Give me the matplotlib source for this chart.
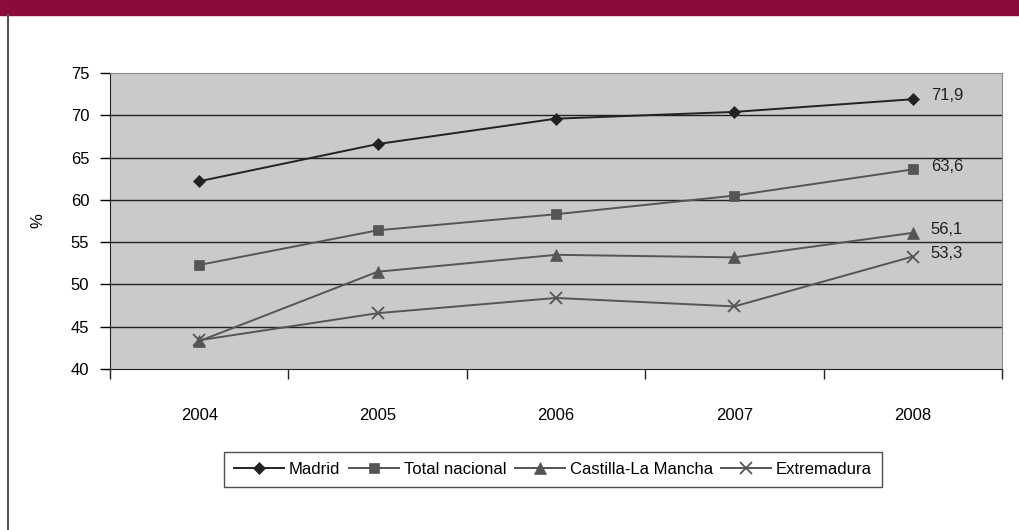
import matplotlib.pyplot as plt
from matplotlib.patches import Rectangle
from matplotlib.lines import Line2D

plt.rcParams['font.family'] = ['Liberation Sans Narrow', 'Liberation Sans', 'DejaVu Sans']

years = ['2004', '2005', '2006', '2007', '2008']
madrid = [62.2, 66.6, 69.6, 70.4, 71.9]
total_nacional = [52.3, 56.4, 58.3, 60.5, 63.6]
castilla = [43.3, 51.5, 53.5, 53.2, 56.1]
extremadura = [43.4, 46.6, 48.4, 47.4, 53.3]

series = [
    ('Madrid', madrid, 'D', '#222222', 6.5),
    ('Total nacional', total_nacional, 's', '#555555', 6.5),
    ('Castilla-La Mancha', castilla, '^', '#555555', 8),
    ('Extremadura', extremadura, 'x', '#555555', 9),
]

fig = plt.figure(figsize=(10.19, 5.30), dpi=100)
# banda superior
fig.patches.append(Rectangle((0, 1 - 15 / 530), 1, 15 / 530, transform=fig.transFigure,
                             color='#8B0C3C', zorder=0))
fig.lines.append(Line2D([8 / 1019, 8 / 1019], [0, 1 - 15 / 530], transform=fig.transFigure,
                        color='#555555', lw=1.5))

ax = fig.add_axes([110 / 1019, 1 - 369 / 530, 892 / 1019, 296 / 530])
ax.set_facecolor('#C9CACC')
x = list(range(len(years)))
for name, vals, mk, col, ms in series:
    ax.plot(x, vals, color=col, lw=1.4, marker=mk, markersize=ms, mew=1.3 if mk == 'x' else 0.5,
            label=name, zorder=3)
    ax.text(x[-1] + 0.1, vals[-1] + 0.4, f'{vals[-1]:.1f}'.replace('.', ','), fontsize=12,
            ha='left', va='center', color='#222222')

ax.set_xlim(-0.5, 4.5)
ax.set_ylim(40, 75)
ax.set_yticks(range(40, 80, 5))
ax.set_xticks(x)
ax.set_xticklabels(years)
ax.set_xticks([i + 0.5 for i in range(-1, 5)], minor=True)
ax.tick_params(axis='x', which='major', length=0, pad=28, labelsize=12)
ax.tick_params(axis='x', which='minor', length=7, width=1, color='#222222')
ax.tick_params(axis='y', length=7, width=1, labelsize=12, pad=8)
for v in range(45, 75, 5):
    ax.axhline(v, color='#222222', lw=1, zorder=1)
ax.spines['top'].set_color('#888888')
ax.spines['right'].set_color('#888888')
ax.spines['left'].set_color('#222222')
ax.spines['bottom'].set_color('#222222')
ax.set_ylabel('%', fontsize=12)
ax.yaxis.set_label_coords(-65 / 892, 0.5)

leg = ax.legend(loc='center', bbox_to_anchor=(553 / 1019, 1 - 469 / 530), bbox_transform=fig.transFigure,
                ncol=4, frameon=True, fancybox=False, edgecolor='#222222', fontsize=12,
                handlelength=3, columnspacing=0.5, handletextpad=0.3, borderpad=0.6)
leg.get_frame().set_linewidth(1)

fig.savefig('out.png', dpi=100, facecolor='white')
